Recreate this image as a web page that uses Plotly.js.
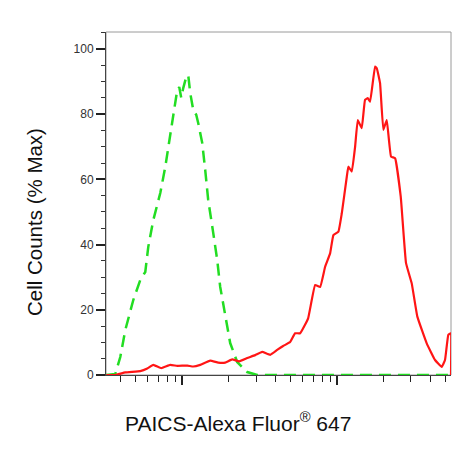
<!DOCTYPE html>
<html>
<head>
<meta charset="utf-8">
<script src="https://cdn.plot.ly/plotly-3.0.1.min.js"></script>
<style>html,body{margin:0;padding:0;background:#fff;}#chart{width:475px;height:451px;}</style>
</head>
<body>
<div id="chart"></div>
<script>
// Isotype / negative control (green dashed)
var controlX = [318.6, 369.6, 398.1, 428.9, 483.0, 535.8, 577.2, 603.5, 650.0, 721.5, 776.9, 836.9, 874.9, 928.4, 956.3, 985.2, 1015, 1061, 1093, 1126, 1178, 1231, 1268, 1346, 1407, 1471, 1585, 1682, 1759, 1894, 2040, 2263, 2627, 3047, 5772, 12130, 25500, 54390];
var controlY = [0, 0.3, 5.5, 13.8, 23.0, 29.1, 31.6, 39.3, 47.5, 55.8, 63.8, 74.2, 80.4, 87.4, 88.3, 85.0, 88.0, 91.4, 92.0, 86.5, 81.3, 79.8, 77.3, 71.2, 62.9, 53.7, 43.6, 35.3, 27.0, 17.8, 9.8, 4.0, 0.9, 0, 0, 0, 0, 0];

// PAICS stained sample (red solid)
var sampleX = [323.4, 369.6, 428.9, 535.8, 594.6, 650.0, 732.0, 836.9, 928.4, 1077, 1178, 1307, 1515, 1707, 1894, 2102, 2332, 2627, 2958, 3282, 3696, 4102, 4483, 4975, 5358, 5772, 6500, 7215, 7769, 8369, 9013, 9465, 10195, 10723, 11550, 11830, 12440, 13070, 13600, 14430, 15150, 15780, 16330, 17590, 18040, 18940, 19890, 20920, 22300, 23670, 25760, 27870, 30330, 32970, 37910, 42890, 47370, 49750, 52250, 54140, 54390];
var sampleY = [0, 0, 0.8, 1.2, 2.0, 3.1, 2.1, 3.1, 2.8, 2.9, 2.6, 3.1, 4.4, 3.8, 3.8, 4.8, 4.2, 5.2, 6.1, 7.1, 6.2, 7.7, 8.9, 10.1, 12.8, 12.8, 17.4, 27.6, 27.0, 33.2, 37.3, 42.9, 44.0, 49.6, 60.8, 63.9, 62.4, 70.0, 78.2, 75.7, 84.4, 84.9, 83.8, 94.6, 94.1, 89.5, 75.2, 78.2, 67.0, 66.5, 54.7, 34.3, 28.1, 17.9, 9.7, 4.6, 2.5, 4.6, 12.3, 12.8, 0];

var yTickVals = [0, 20, 40, 60, 80, 100];
var yTickText = ['0', '20', '40', '60', '80', '100'];
var xMajorTicks = [1000, 10000];
var xMinorTicks = [400, 500, 600, 700, 800, 900, 2000, 3000, 4000, 5000, 6000, 7000, 8000, 9000, 20000, 30000, 40000, 50000];

var xTitle = 'PAICS-Alexa Fluor<sup>®</sup> 647';
var yTitle = 'Cell Counts (% Max)';

var traces = [
  {x: controlX, y: controlY, type: 'scatter', mode: 'lines',
   line: {color: '#22dd22', width: 2.5, dash: '12px,7px'}, hoverinfo: 'skip'},
  {x: sampleX, y: sampleY, type: 'scatter', mode: 'lines',
   line: {color: '#ff1515', width: 2.2, shape: 'spline', smoothing: 0.3}, hoverinfo: 'skip'}
];

var FONT = 'Liberation Sans, Arial, sans-serif';

var layout = {
  width: 475, height: 451,
  margin: {l: 106, r: 24, t: 32, b: 76},
  paper_bgcolor: '#ffffff', plot_bgcolor: '#ffffff',
  showlegend: false,
  font: {family: FONT, color: '#222'},
  xaxis: {
    type: 'log', range: [2.5077, 4.7355],
    showgrid: false, zeroline: false,
    showline: true, linecolor: '#444', linewidth: 1,
    ticks: 'outside', tickmode: 'array', tickvals: xMajorTicks,
    ticklen: 9, tickwidth: 2, tickcolor: '#222',
    showticklabels: false,
    minor: {ticks: 'outside', tickmode: 'array', tickvals: xMinorTicks, ticklen: 6, tickwidth: 1, tickcolor: '#222', showgrid: false}
  },
  yaxis: {
    range: [0, 105.2],
    showgrid: false, zeroline: false,
    showline: true, linecolor: '#444', linewidth: 1,
    ticks: 'outside', tickmode: 'array', tickvals: yTickVals, ticktext: yTickText,
    ticklen: 9, tickwidth: 2, tickcolor: '#222',
    tickfont: {family: FONT, size: 12, color: '#333'},
    minor: {ticks: 'outside', dtick: 5, ticklen: 4, tickwidth: 1, tickcolor: '#333', showgrid: false}
  },
  shapes: [
    {type: 'rect', xref: 'paper', yref: 'paper', x0: 0, x1: 1, y0: 0, y1: 1,
     line: {color: '#9a9a9a', width: 1}, layer: 'below'}
  ],
  annotations: [
    {text: xTitle, xref: 'paper', yref: 'paper', x: 0.3826, y: -0.137,
     xanchor: 'center', yanchor: 'middle', showarrow: false,
     font: {family: FONT, size: 21, color: '#111'}},
    {text: yTitle, xref: 'paper', yref: 'paper', x: -0.2087, y: 0.446,
     xanchor: 'center', yanchor: 'middle', showarrow: false, textangle: -90,
     font: {family: FONT, size: 20.5, color: '#111'}}
  ]
};

Plotly.newPlot('chart', traces, layout, {staticPlot: true, displayModeBar: false});
</script>
</body>
</html>
